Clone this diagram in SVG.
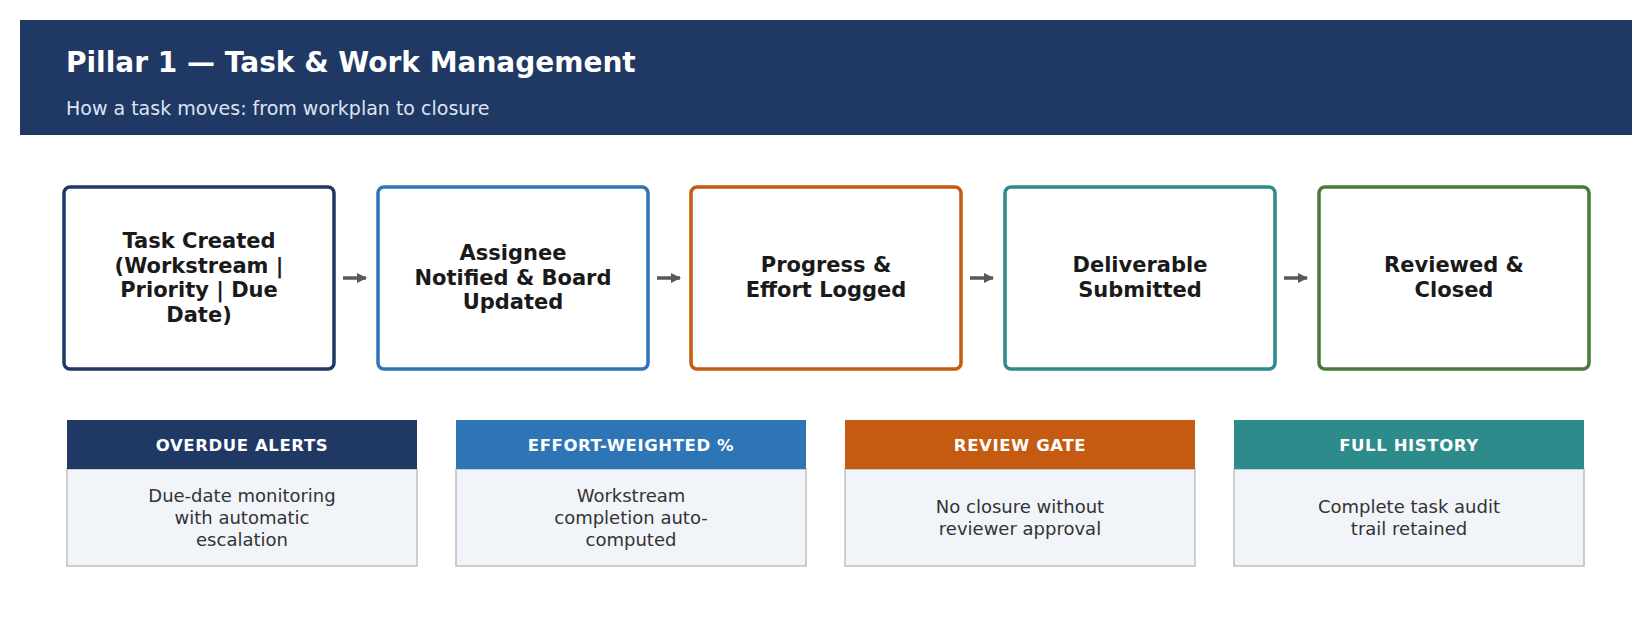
<svg xmlns="http://www.w3.org/2000/svg" width="1652" height="617" viewBox="0 0 1652 617">
<style>
text{font-family:"DejaVu Sans",sans-serif}
.n{fill:#fff;stroke-width:3.5}
.nt{font-size:21px;font-weight:bold;fill:#1a1a1a;text-anchor:middle}
.ch{font-size:16.5px;font-weight:bold;fill:#fff;text-anchor:middle;letter-spacing:0.6px}
.cb{fill:#f1f4f9;stroke:#bfbfbf;stroke-width:1.5}
.ct{font-size:18px;fill:#333;text-anchor:middle}
.c{stroke:#595959;stroke-width:3.5;fill:none;marker-end:url(#a)}
</style>
<defs><marker id="a" viewBox="0 0 10 10" refX="9" refY="5" markerWidth="3" markerHeight="3" orient="auto"><path d="M0,0L10,5L0,10z" fill="#595959"/></marker></defs>
<rect x="20" y="20" width="1612" height="115" fill="#203864"/>
<text x="66" y="72" font-size="28" font-weight="bold" fill="#fff">Pillar 1 — Task &amp; Work Management</text>
<text x="66" y="115" font-size="19" fill="#dce4f0">How a task moves: from workplan to closure</text>
<g id="n1"><rect class="n" x="64" y="187" width="270" height="182" rx="6" stroke="#203864"/><text class="nt" y="248"><tspan x="199">Task Created</tspan><tspan x="199" dy="24.5">(Workstream |</tspan><tspan x="199" dy="24.5">Priority | Due</tspan><tspan x="199" dy="24.5">Date)</tspan></text></g>
<g id="n2"><rect class="n" x="378" y="187" width="270" height="182" rx="6" stroke="#2e75b6"/><text class="nt" y="260"><tspan x="513">Assignee</tspan><tspan x="513" dy="24.5">Notified &amp; Board</tspan><tspan x="513" dy="24.5">Updated</tspan></text></g>
<g id="n3"><rect class="n" x="691" y="187" width="270" height="182" rx="6" stroke="#c55a11"/><text class="nt" y="272"><tspan x="826">Progress &amp;</tspan><tspan x="826" dy="24.5">Effort Logged</tspan></text></g>
<g id="n4"><rect class="n" x="1005" y="187" width="270" height="182" rx="6" stroke="#2e8b8b"/><text class="nt" y="272"><tspan x="1140">Deliverable</tspan><tspan x="1140" dy="24.5">Submitted</tspan></text></g>
<g id="n5"><rect class="n" x="1319" y="187" width="270" height="182" rx="6" stroke="#4a7a3a"/><text class="nt" y="272"><tspan x="1454">Reviewed &amp;</tspan><tspan x="1454" dy="24.5">Closed</tspan></text></g>
<g id="connectors">
<line class="c" x1="343" y1="278" x2="366" y2="278"/>
<line class="c" x1="657" y1="278" x2="680" y2="278"/>
<line class="c" x1="970" y1="278" x2="993" y2="278"/>
<line class="c" x1="1284" y1="278" x2="1307" y2="278"/>
</g>
<g id="c1"><rect class="cb" x="67" y="469" width="350" height="97"/><rect x="67" y="420" width="350" height="49" fill="#203864"/><text class="ch" x="242" y="451">OVERDUE ALERTS</text><text class="ct" y="502"><tspan x="242">Due-date monitoring</tspan><tspan x="242" dy="22">with automatic</tspan><tspan x="242" dy="22">escalation</tspan></text></g>
<g id="c2"><rect class="cb" x="456" y="469" width="350" height="97"/><rect x="456" y="420" width="350" height="49" fill="#2e75b6"/><text class="ch" x="631" y="451">EFFORT-WEIGHTED %</text><text class="ct" y="502"><tspan x="631">Workstream</tspan><tspan x="631" dy="22">completion auto-</tspan><tspan x="631" dy="22">computed</tspan></text></g>
<g id="c3"><rect class="cb" x="845" y="469" width="350" height="97"/><rect x="845" y="420" width="350" height="49" fill="#c55a11"/><text class="ch" x="1020" y="451">REVIEW GATE</text><text class="ct" y="513"><tspan x="1020">No closure without</tspan><tspan x="1020" dy="22">reviewer approval</tspan></text></g>
<g id="c4"><rect class="cb" x="1234" y="469" width="350" height="97"/><rect x="1234" y="420" width="350" height="49" fill="#2e8b8b"/><text class="ch" x="1409" y="451">FULL HISTORY</text><text class="ct" y="513"><tspan x="1409">Complete task audit</tspan><tspan x="1409" dy="22">trail retained</tspan></text></g>
</svg>
